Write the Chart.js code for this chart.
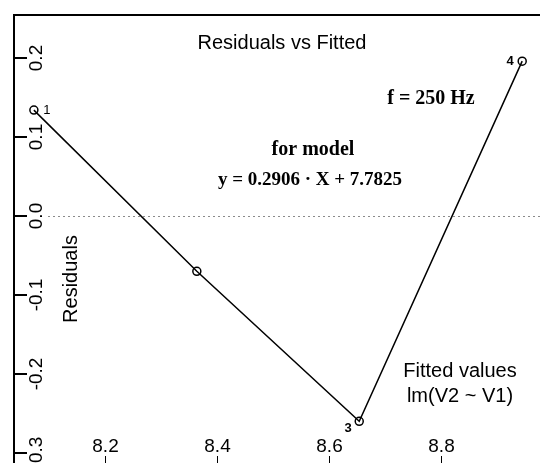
<!DOCTYPE html>
<html>
<head>
<meta charset="utf-8">
<script src="https://cdn.jsdelivr.net/npm/chart.js@4/dist/chart.umd.min.js"></script>
<style>
  html, body { margin: 0; padding: 0; background: #fff; }
  #wrap { width: 540px; height: 463px; }
</style>
</head>
<body>
<div id="wrap"><canvas id="residuals" width="540" height="463"></canvas></div>
<script>
// fitted values and residuals
const fittedValues = [8.073, 8.364, 8.654, 8.945];
const residuals = [0.134, -0.070, -0.260, 0.196];
const pointIds = ["1", "", "3", "4"];

const xTicks = [8.2, 8.4, 8.6, 8.8];
const xTickLabels = ["8.2", "8.4", "8.6", "8.8"];
const yTicks = [-0.3, -0.2, -0.1, 0.0, 0.1, 0.2];
const yTickLabels = ["-0.3", "-0.2", "-0.1", "0.0", "0.1", "0.2"];

const plotTitle = "Residuals vs Fitted";
const yAxisTitle = "Residuals";
const xAxisTitle = ["Fitted values", "lm(V2 ~ V1)"];
const freqNote = "f = 250 Hz";
const modelNote = ["for model", "y = 0.2906 \u00b7 X + 7.7825"];

const canvas = document.getElementById("residuals");

// draws the R style frame, ticks and texts
const rFrame = {
  id: "rFrame",
  beforeDatasetsDraw(chart) {
    const { ctx, chartArea, scales } = chart;
    const x = scales.x;
    const y = scales.y;
    ctx.save();

    // zero line, dotted
    ctx.strokeStyle = "#8a8a8a";
    ctx.lineWidth = 1;
    ctx.setLineDash([2, 3]);
    ctx.beginPath();
    const y0 = Math.round(y.getPixelForValue(0)) + 0.5;
    ctx.moveTo(48, y0);
    ctx.lineTo(chartArea.right, y0);
    ctx.stroke();
    ctx.setLineDash([]);

    ctx.restore();
  },
  afterDraw(chart) {
    const { ctx, chartArea, scales } = chart;
    const x = scales.x;
    const y = scales.y;
    ctx.save();
    ctx.fillStyle = "#000";
    ctx.strokeStyle = "#000";

    // frame: top and left
    ctx.fillRect(chartArea.left - 1, chartArea.top - 1, chartArea.right - chartArea.left + 1, 2);
    ctx.fillRect(chartArea.left - 1, chartArea.top - 1, 2, chartArea.bottom - chartArea.top + 1);

    // y ticks + rotated labels
    ctx.lineWidth = 2;
    ctx.font = "19px 'Liberation Sans', Arial, sans-serif";
    ctx.textAlign = "center";
    ctx.textBaseline = "middle";
    yTicks.forEach((v, i) => {
      const py = Math.round(y.getPixelForValue(v));
      ctx.beginPath();
      ctx.moveTo(chartArea.left, py);
      ctx.lineTo(chartArea.left + 13, py);
      ctx.stroke();
      ctx.save();
      ctx.translate(36, py);
      ctx.rotate(-Math.PI / 2);
      ctx.fillText(yTickLabels[i], 0, 1);
      ctx.restore();
    });

    // x ticks + labels
    ctx.lineWidth = 1;
    xTicks.forEach((v, i) => {
      const px = Math.round(x.getPixelForValue(v)) + 0.5;
      ctx.beginPath();
      ctx.moveTo(px, chartArea.bottom);
      ctx.lineTo(px, chartArea.bottom - 7);
      ctx.stroke();
      ctx.fillText(xTickLabels[i], px, 447);
    });

    // titles
    ctx.font = "20px 'Liberation Sans', Arial, sans-serif";
    ctx.fillText(plotTitle, 282, 43);
    ctx.save();
    ctx.translate(71, 279);
    ctx.rotate(-Math.PI / 2);
    ctx.fillText(yAxisTitle, 0, 0);
    ctx.restore();
    ctx.fillText(xAxisTitle[0], 460, 371);
    ctx.fillText(xAxisTitle[1], 460, 396);

    // notes in bold serif
    ctx.font = "bold 20px 'Liberation Serif', 'Times New Roman', serif";
    ctx.fillText(freqNote, 431, 99);
    ctx.fillText(modelNote[0], 313, 150);
    ctx.font = "bold 19px 'Liberation Serif', 'Times New Roman', serif";
    ctx.fillText(modelNote[1], 310, 180);

    // point ids
    const meta = chart.getDatasetMeta(0);
    meta.data.forEach((pt, i) => {
      if (!pointIds[i]) return;
      if (i === 0) {
        ctx.font = "13px 'Liberation Sans', Arial, sans-serif";
        ctx.fillText(pointIds[i], pt.x + 13, pt.y);
      } else if (i === 2) {
        ctx.font = "bold 13px 'Liberation Sans', Arial, sans-serif";
        ctx.fillText(pointIds[i], pt.x - 11, pt.y + 7);
      } else {
        ctx.font = "bold 13px 'Liberation Sans', Arial, sans-serif";
        ctx.fillText(pointIds[i], pt.x - 12, pt.y);
      }
    });

    ctx.restore();
  },
};

new Chart(canvas, {
  type: "scatter",
  data: {
    datasets: [
      {
        data: fittedValues.map((fv, i) => ({ x: fv, y: residuals[i] })),
        showLine: true,
        borderColor: "#000",
        borderWidth: 1.5,
        backgroundColor: "rgba(0,0,0,0)",
        pointRadius: 4,
        pointBorderWidth: 1.5,
        pointBorderColor: "#000",
        pointBackgroundColor: "rgba(0,0,0,0)",
        clip: false,
      },
    ],
  },
  options: {
    responsive: false,
    maintainAspectRatio: false,
    devicePixelRatio: 1,
    animation: false,
    layout: {
      autoPadding: false,
      padding: { left: 14, top: 15, right: 0, bottom: 0 },
    },
    plugins: {
      legend: { display: false },
      tooltip: { enabled: false },
    },
    scales: {
      x: { type: "linear", display: false, min: 8.0375, max: 8.9768 },
      y: { type: "linear", display: false, min: -0.3127, max: 0.2544 },
    },
  },
  plugins: [rFrame],
});
</script>
</body>
</html>
